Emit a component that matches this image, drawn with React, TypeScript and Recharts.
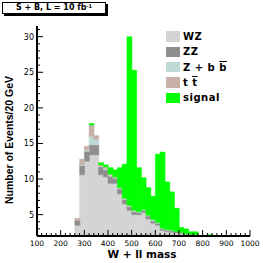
import { BarChart, Bar, XAxis, YAxis, Legend } from 'recharts'

// lower edge of each 20 GeV bin (GeV)
const binLow = [260, 280, 300, 320, 340, 360, 380, 400, 420, 440, 460, 480, 500, 520, 540, 560, 580, 600, 620, 640, 660, 680, 700, 720, 740, 760, 780, 800, 820]

const wz = [3.5, 10.6, 12.5, 13.4, 13.4, 10.6, 10.3, 9.4, 9.4, 7.9, 6.5, 5.6, 5.0, 5.0, 5.3, 4.4, 3.8, 3.5, 2.8, 2.6, 2.5, 2.4, 2.4, 2.2, 2.1, 1.5, 1.2, 0.8, 0.5]
const zz = [0.7, 1.3, 1.4, 1.4, 1.4, 1.1, 1.0, 1.0, 0.7, 0.7, 0.6, 0.5, 0.4, 0.3, 0.3, 0.4, 0.3, 0.3, 0.2, 0.2, 0.2, 0.2, 0.1, 0.1, 0.1, 0.1, 0.1, 0.1, 0]
const zbb = [0, 0.1, 0.2, 1.2, 0.8, 0.1, 0.2, 0.2, 0.1, 0.1, 0.1, 0.1, 0.1, 0.1, 0.1, 0.1, 0.2, 0.1, 0.1, 0.1, 0.1, 0, 0, 0, 0, 0, 0, 0, 0]
const ttbar = [0.3, 0.8, 0.5, 1.6, 0.5, 0.2, 0.2, 0.1, 0.1, 0.1, 0.1, 0.1, 0.1, 0, 0, 0, 0, 0, 0, 0, 0, 0, 0, 0, 0, 0, 0, 0, 0]
const signal = [0, 0, 0, 0.2, 0, 0.3, 0.3, 0.9, 1.0, 2.8, 4.8, 23.7, 19.7, 6.2, 4.5, 3.9, 3.3, 9.6, 10.7, 6.7, 5.4, 3.3, 0.7, 0.7, 0.4, 1.0, 0.6, 0.3, 1.7]

const xLabels = [100, 200, 300, 400, 500, 600, 700, 800, 900, 1000]
const yLabels = [5, 10, 15, 20, 25, 30]

// minor ticks every 20 GeV / every event
const xTicks = Array.from({ length: 46 }, (_, i) => 100 + i * 20)
const yTicks = Array.from({ length: 29 }, (_, i) => 3 + i)

const series = [
  { key: 'wz', color: '#d4d4d4' },
  { key: 'zz', color: '#8e8e8e' },
  { key: 'zbb', color: '#bedad4' },
  { key: 'tt', color: '#c6b0a8' },
  { key: 'signal', color: '#00ff00' },
]

const data = binLow.map((m, i) => ({
  mass: m + 10,
  wz: wz[i],
  zz: zz[i],
  zbb: zbb[i],
  tt: ttbar[i],
  signal: signal[i],
}))

const over = { textDecoration: 'overline' }

const legendLabel: Record<string, any> = {
  wz: 'WZ',
  zz: 'ZZ',
  zbb: <>Z + b <span style={over}>b</span></>,
  tt: <>t <span style={over}>t</span></>,
  signal: 'signal',
}

function XTick({ x, y, payload }: any) {
  const v = payload.value
  const major = xLabels.includes(v)
  return (
    <g>
      <line x1={x} x2={x} y1={y} y2={y - (major ? 6 : 3)} stroke="#000" />
      {major && (
        <text x={x} y={y + 9.5} textAnchor="middle" fontSize={7.5} fontFamily="DejaVu Sans" fill="#000">
          {v}
        </text>
      )}
    </g>
  )
}

function YTick({ x, y, payload }: any) {
  const v = payload.value
  const major = yLabels.includes(v)
  return (
    <g>
      <line x1={x} x2={x + (major ? 6 : 3)} y1={y} y2={y} stroke="#000" />
      {major && (
        <text x={x - 3} y={y + 3} textAnchor="end" fontSize={8} fontFamily="DejaVu Sans" fill="#000">
          {v}
        </text>
      )}
    </g>
  )
}

function YTitle() {
  return (
    <text
      transform="translate(13,140) rotate(-90)"
      textAnchor="middle"
      fontSize={10}
      fontWeight="bold"
      fontFamily="'Liberation Sans Narrow', 'Liberation Sans', Arial"
      textLength={128}
      lengthAdjust="spacingAndGlyphs"
      fill="#000"
    >
      Number of Events/20 GeV
    </text>
  )
}

function XTitle() {
  return (
    <text x={142} y={258} textAnchor="middle" fontSize={10.5} fontWeight="bold" fontFamily="DejaVu Sans" fill="#000">
      W + ll mass
    </text>
  )
}

function LegendBox() {
  return (
    <div style={{ fontFamily: 'DejaVu Sans', fontWeight: 'bold', fontSize: 10, letterSpacing: 0.5, color: '#000' }}>
      {series.map((s) => (
        <div key={s.key} style={{ display: 'flex', alignItems: 'center', height: 15.3 }}>
          <span style={{ width: 14, height: 10.5, background: s.color, marginRight: 3, flex: 'none' }} />
          <span style={{ whiteSpace: 'nowrap' }}>{legendLabel[s.key]}</span>
        </div>
      ))}
    </div>
  )
}

export default function App() {
  return (
    <div style={{ position: 'fixed', left: 0, top: 0, width: 263, height: 263, background: '#fff' }}>
      <BarChart
        width={263}
        height={263}
        data={data}
        margin={{ top: 26, right: 13, left: 0, bottom: 0 }}
        barCategoryGap={0}
        barGap={0}
      >
        <XAxis
          type="number"
          dataKey="mass"
          domain={[100, 1000]}
          allowDataOverflow
          ticks={xTicks}
          interval={0}
          tickSize={0}
          tickMargin={0}
          tickLine={false}
          tick={<XTick />}
          axisLine={{ stroke: '#000', strokeWidth: 2 }}
          height={27}
          label={<XTitle />}
        />
        <XAxis xAxisId="top" orientation="top" type="number" domain={[100, 1000]} height={0} tick={false} tickLine={false} axisLine={{ stroke: '#000', strokeWidth: 2 }} />
        <YAxis
          type="number"
          domain={[2, 31.5]}
          allowDataOverflow
          ticks={yTicks}
          interval={0}
          tickSize={0}
          tickMargin={0}
          tickLine={false}
          tick={<YTick />}
          axisLine={{ stroke: '#000', strokeWidth: 2 }}
          width={37}
          label={<YTitle />}
        />
        <YAxis yAxisId="right" orientation="right" type="number" domain={[0, 1]} width={0} tick={false} tickLine={false} axisLine={{ stroke: '#000', strokeWidth: 2 }} />
        <Legend
          layout="vertical"
          align="center"
          verticalAlign="middle"
          content={<LegendBox />}
          wrapperStyle={{ left: 166, top: 29, width: 90 }}
        />
        {series.map((s) => (
          <Bar
            key={s.key}
            dataKey={s.key}
            stackId="bg"
            fill={s.color}
            stroke={s.color}
            strokeWidth={0.5}
            isAnimationActive={false}
          />
        ))}
      </BarChart>
      <div
        style={{
          position: 'absolute',
          left: 2,
          top: 2,
          width: 102,
          height: 10,
          border: '1px solid #000',
          boxShadow: '2px 2px 0 #000',
          background: '#fff',
          fontFamily: 'DejaVu Sans',
          fontWeight: 'bold',
          fontSize: 8,
          lineHeight: '10px',
          textAlign: 'center',
          whiteSpace: 'nowrap',
        }}
      >
        S + B, L = 10 fb<sup style={{ fontSize: 5, verticalAlign: 'top', lineHeight: '6px' }}>-1</sup>
      </div>
    </div>
  )
}
